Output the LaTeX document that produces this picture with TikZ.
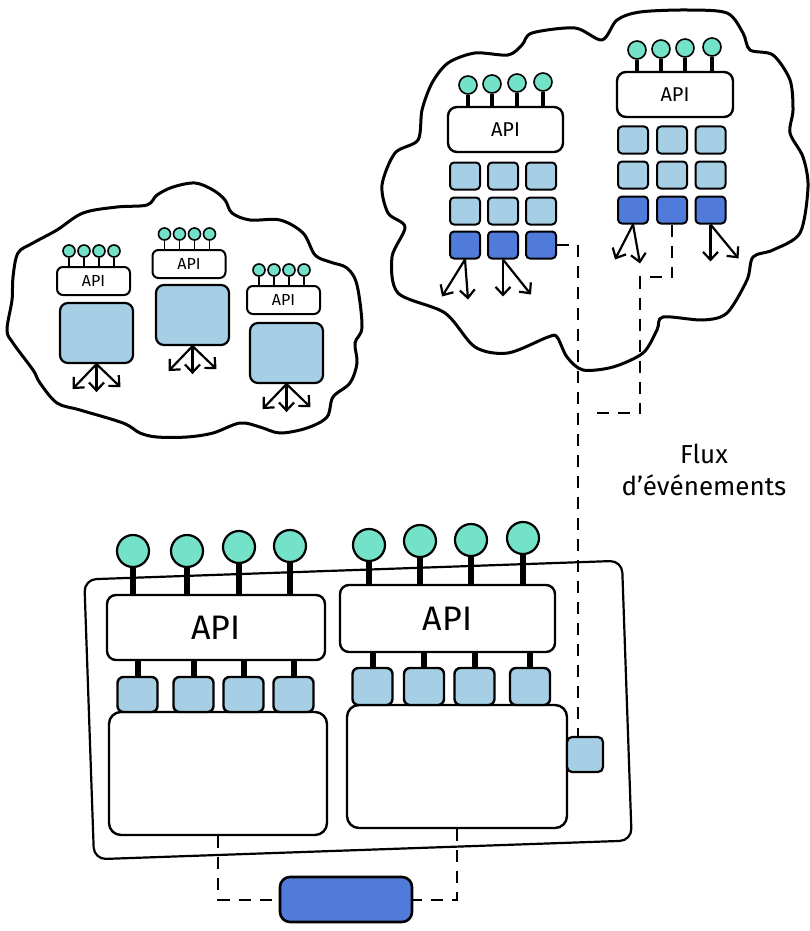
\documentclass[tikz,border=0pt]{standalone}
\usepackage{fontspec}
\setmainfont{Fira Sans}
\usetikzlibrary{calc}
\usetikzlibrary{positioning}
\usetikzlibrary{arrows.meta}
\definecolor{port-green}{RGB}{116, 226, 200}
\definecolor{svc-blue}{RGB}{166, 207, 230}
\definecolor{evt-blue}{RGB}{80, 123, 219}
\tikzset{
  ink/.style={draw=black, line width=2.4pt},
  apibox/.style={ink, fill=white, rounded corners=9pt, inner sep=0pt},
  portdot/.style={circle, draw=black, fill=port-green, line width=1.6pt, inner sep=0pt},
  svcbox/.style={draw=black, fill=svc-blue, line width=2pt, rounded corners=4pt, inner sep=0pt},
  evtbox/.style={svcbox, fill=evt-blue},
  flux/.style={line width=2pt, dash pattern=on 12pt off 9pt},
  fanout/.style={line width=2.2pt, -{Straight Barb[length=8pt,width=15pt]}},
  cloudline/.style={line width=3pt, line join=round},
}

\begin{document}
\begin{tikzpicture}[x=1pt, y=-1pt]
\useasboundingbox (0,0) rectangle (809,931);

% clouds
\draw[cloudline, fill=white] plot[smooth cycle, tension=0.55] coordinates {
  (147,205) (157,195) (173,187) (195,183) (213,190) (225,200) (232,213) (250,220)
  (280,220) (303,233) (315,255) (330,262) (347,268) (357,285) (362,327) (355,343)
  (357,363) (350,383) (333,397) (327,417) (307,428) (280,433) (260,427) (240,423)
  (213,433) (187,437) (157,437) (140,433) (123,423) (80,410) (57,403) (40,383)
  (33,370) (13,343) (7,330) (12,300) (13,277) (18,253) (33,243) (57,230) (83,213) (117,207)};
\draw[cloudline, fill=white] plot[smooth cycle, tension=0.5] coordinates {
  (382,185) (395,153) (418,140) (422,110) (432,83) (448,63) (475,53) (508,55)
  (522,45) (532,33) (575,28) (602,40) (617,20) (640,12) (687,10) (727,13)
  (743,33) (750,50) (773,55) (790,80) (793,110) (790,133) (803,157) (808,187)
  (800,233) (773,250) (753,257) (747,280) (727,313) (703,320) (663,317) (657,330)
  (643,353) (613,367) (583,370) (567,357) (557,337) (548,337) (508,353) (475,347)
  (445,313) (398,293) (392,257) (405,227) (388,213)};

% small cloud services
\foreach \n/\ax/\ay/\bx/\by in {1/93.5/281/96.5/333, 2/189/264/192.5/315, 3/283.5/300/286.5/353} {
  \node[apibox, line width=2pt, rounded corners=6pt, minimum width=73pt, minimum height=28pt,
        font=\fontsize{16}{16}\selectfont] (sapi\n) at (\ax,\ay) {API};
  \node[svcbox, line width=2.2pt, rounded corners=8pt, minimum width=73pt, minimum height=60pt] (sbox\n) at (\bx,\by) {};
  \foreach \dx in {-15,0,15,30} {
    \node[portdot, minimum size=12pt] (sp\n) at ($(sapi\n.north west)+(13+\dx+15,-15)$) {};
    \draw[line width=1.8pt] (sp\n.south) -- (sp\n.south |- sapi\n.north);
  }
  \draw[fanout] (sbox\n.south) -- ++(-24,25);
  \draw[fanout] (sbox\n.south) -- ++(0,28);
  \draw[fanout] (sbox\n.south) -- ++(24,23);
}

% big cloud services
\node[apibox, minimum width=115pt, minimum height=45pt, font=\fontsize{20}{20}\selectfont] (apiA) at (505.5,129.5) {API};
\node[apibox, minimum width=116pt, minimum height=45pt, font=\fontsize{20}{20}\selectfont] (apiB) at (675,94.5) {API};
\foreach \x/\y [count=\i] in {468/85,492/84,517/83,543/82} {
  \node[portdot, minimum size=18pt] (pA\i) at (\x,\y) {};
  \draw[line width=3.4pt] (pA\i.south) -- (pA\i.south |- apiA.north);
}
\foreach \x/\y [count=\i] in {637/50,661/49,685/48,712/47} {
  \node[portdot, minimum size=18pt] (pB\i) at (\x,\y) {};
  \draw[line width=3.4pt] (pB\i.south) -- (pB\i.south |- apiB.north);
}
\foreach \c/\x in {1/465,2/503,3/541} {
  \foreach \r/\y in {1/176,2/211}
    \node[svcbox, minimum width=30pt, minimum height=27pt] (sA\r\c) at (\x,\y) {};
  \node[evtbox, minimum width=30pt, minimum height=27pt] (evA\c) at (\x,245) {};
}
\foreach \c/\x in {1/633,2/672,3/710.5} {
  \foreach \r/\y in {1/140,2/175}
    \node[svcbox, minimum width=30pt, minimum height=27pt] (sB\r\c) at (\x,\y) {};
  \node[evtbox, minimum width=30pt, minimum height=27pt] (evB\c) at (\x,210) {};
}
\draw[fanout] (evA1.south) -- ++(-23,37);
\draw[fanout] (evA1.south) -- ++(3,40);
\draw[fanout] (evA2.south) -- ++(0,37);
\draw[fanout] (evA2.south) -- ++(28,35);
\draw[fanout] (evB1.south) -- ++(-18,35);
\draw[fanout] (evB1.south) -- ++(7,39);
\draw[fanout] (evB3.south) -- ++(0,37);
\draw[fanout] (evB3.south) -- ++(28,34);

% host
\node[draw, line width=2.2pt, rounded corners=12pt, minimum width=538pt, minimum height=280pt, rotate=2] (host) at (358,710) {};
\node[apibox, minimum width=218pt, minimum height=65pt, font=\fontsize{34}{34}\selectfont] (apiL) at (216,627.5) {API};
\node[apibox, minimum width=215pt, minimum height=67pt, font=\fontsize{34}{34}\selectfont] (apiR) at (447.5,618.5) {API};
\node[ink, fill=white, rounded corners=12pt, minimum width=218pt, minimum height=123pt] (coreL) at (218,773.5) {};
\node[ink, fill=white, rounded corners=12pt, minimum width=220pt, minimum height=123pt] (coreR) at (457,766.5) {};
\foreach \x/\y [count=\i] in {133/551,187/551,239/547,290/546} {
  \node[portdot, minimum size=32pt, line width=2.2pt] (pL\i) at (\x,\y) {};
  \draw[line width=6pt] (pL\i.south) -- (pL\i.south |- apiL.north);
}
\foreach \x/\y [count=\i] in {369/545,420/541,471/540,523/538} {
  \node[portdot, minimum size=32pt, line width=2.2pt] (pR\i) at (\x,\y) {};
  \draw[line width=6pt] (pR\i.south) -- (pR\i.south |- apiR.north);
}
\foreach \x [count=\i] in {137.5,193.5,243.5,293.5} {
  \node[svcbox, line width=2.4pt, rounded corners=6pt, minimum width=40pt, minimum height=35pt] (qL\i) at (\x,694.5) {};
  \draw[line width=6pt] (qL\i.north) -- (qL\i.north |- apiL.south);
}
\foreach \x [count=\i] in {372.5,424,474.5,530} {
  \node[svcbox, line width=2.4pt, rounded corners=6pt, minimum width=40pt, minimum height=37pt] (qR\i) at (\x,686.5) {};
  \draw[line width=6pt] (qR\i.north) -- (qR\i.north |- apiR.south);
}
\node[svcbox, line width=2.2pt, rounded corners=5pt, minimum width=36pt, minimum height=35pt] (outbox) at (585,754.5) {};
\node[evtbox, line width=2.6pt, rounded corners=10pt, minimum width=132pt, minimum height=45pt] (store) at (346,899.5) {};

% event flow
\coordinate (bend) at (640,277);
\coordinate (join) at (588,413);
\draw[flux] (evA3.east) -| ([xshift=-7pt]outbox.north);
\draw[flux] (evB2.south) |- (bend) |- (join);
\draw[flux] (coreL.south) |- (store.west);
\draw[flux] (coreR.south) |- (store.east);
\node[font=\fontsize{26}{32}\selectfont, align=center] (fluxlabel) at (704,470) {Flux\\d’événements};
\end{tikzpicture}
\end{document}
